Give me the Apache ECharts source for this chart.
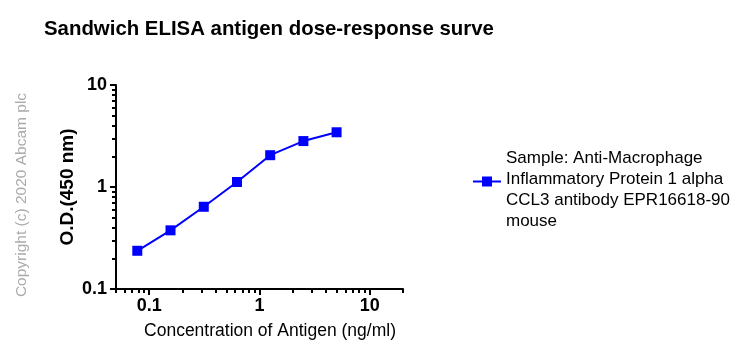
<!DOCTYPE html>
<html><head><meta charset="utf-8">
<script src="https://cdn.jsdelivr.net/npm/echarts@6/dist/echarts.min.js"></script>
<style>html,body{margin:0;padding:0;background:#fff}#c{width:750px;height:359px}</style>
</head><body><div id="c"></div>
<script>
const concentration = [0.078, 0.156, 0.3125, 0.625, 1.25, 2.5, 5];
const odValues = [0.237, 0.376, 0.64, 1.12, 2.05, 2.82, 3.44];
const xMajorTicks = [0.1, 1, 10];
const xMinorTicks = [0.05,0.06,0.07,0.08,0.09,0.2,0.3,0.4,0.5,0.6,0.7,0.8,0.9,2,3,4,5,6,7,8,9,20];
const yMajorTicks = [0.1, 1, 10];
const yMinorTicks = [0.2,0.3,0.4,0.5,0.6,0.7,0.8,0.9,2,3,4,5,6,7,8,9];
const seriesName = 'Sample: Anti-Macrophage\nInflammatory Protein 1 alpha\nCCL3 antibody EPR16618-90\nmouse';
const titleText = 'Sandwich ELISA antigen dose-response surve';
const xName = 'Concentration of Antigen (ng/ml)';
const yName = 'O.D.(450 nm)';
const copyright = 'Copyright (c) 2020 Abcam plc';

const FONT = 'Arial, "Liberation Sans", sans-serif';
const fmt = v => (Math.abs(v - 0.1) < 1e-9 ? '0.1' : String(Math.round(v)));
const chart = echarts.init(document.getElementById('c'));
const grid = { left: 116, top: 85, width: 287, height: 204, containLabel: false };
// kind: 'main' (line + labels + name), 'major' (long ticks), 'minor' (short ticks)
function xAx(kind) {
  const main = kind === 'main';
  return {
    type: 'log', min: 0.05, max: 20, logBase: 10, position: 'bottom', offset: 0,
    axisLine: { show: main, onZero: false, lineStyle: { color: '#000', width: 2 } },
    axisTick: { show: !main, length: kind === 'major' ? 6 : 4, customValues: kind === 'major' ? xMajorTicks : xMinorTicks, lineStyle: { color: '#000', width: 2 } },
    axisLabel: { show: main, customValues: xMajorTicks, formatter: fmt, color: '#000', fontFamily: FONT, fontWeight: 'bold', fontSize: 18, margin: 8 },
    splitLine: { show: false },
    name: main ? xName : '', nameLocation: 'middle', nameGap: 33,
    nameTextStyle: { color: '#000', fontFamily: FONT, fontSize: 17.5, padding: [0, 0, 0, 21] }
  };
}
function yAx(kind) {
  const main = kind === 'main';
  return {
    type: 'log', min: 0.1, max: 10, logBase: 10, position: 'left', offset: 0,
    axisLine: { show: main, onZero: false, lineStyle: { color: '#000', width: 2 } },
    axisTick: { show: !main, length: kind === 'major' ? 6 : 4, customValues: kind === 'major' ? yMajorTicks : yMinorTicks, lineStyle: { color: '#000', width: 2 } },
    axisLabel: { show: main, customValues: yMajorTicks, formatter: fmt, color: '#000', fontFamily: FONT, fontWeight: 'bold', fontSize: 18, margin: 9 },
    splitLine: { show: false },
    name: main ? yName : '', nameLocation: 'middle', nameGap: 39,
    nameTextStyle: { color: '#000', fontFamily: FONT, fontSize: 19, fontWeight: 'bold' }
  };
}
const legendIcon = 'path://M0 4L28 4L28 6L0 6Z M9 0L19 0L19 10L9 10Z M0 27L0.01 27L0.01 27.01Z';
chart.setOption({
  animation: false,
  backgroundColor: '#fff',
  title: { text: titleText, left: 39, top: 14, textStyle: { fontFamily: FONT, fontSize: 20.4, fontWeight: 'bold', color: '#000' } },
  grid: [grid],
  xAxis: [xAx('main'), xAx('major'), xAx('minor')],
  yAxis: [yAx('main'), yAx('major'), yAx('minor')],
  legend: {
    left: 468, top: 143, orient: 'vertical', itemWidth: 28, itemHeight: 27, itemGap: 5,
    textStyle: { fontFamily: FONT, fontSize: 17, color: '#000', lineHeight: 21 },
    data: [{ name: seriesName, icon: legendIcon }]
  },
  graphic: [{
    type: 'text', x: 22, y: 195, rotation: Math.PI / 2,
    style: { text: copyright, fill: '#aaaaaa', font: '15.5px ' + FONT, align: 'center', verticalAlign: 'middle' }
  }],
  series: [{
    name: seriesName, type: 'line', xAxisIndex: 0, yAxisIndex: 0,
    data: concentration.map((c, i) => [c, odValues[i]]),
    symbol: 'rect', symbolSize: 10,
    lineStyle: { color: '#0000ff', width: 2 },
    itemStyle: { color: '#0000ff' }
  }]
});
</script></body></html>
